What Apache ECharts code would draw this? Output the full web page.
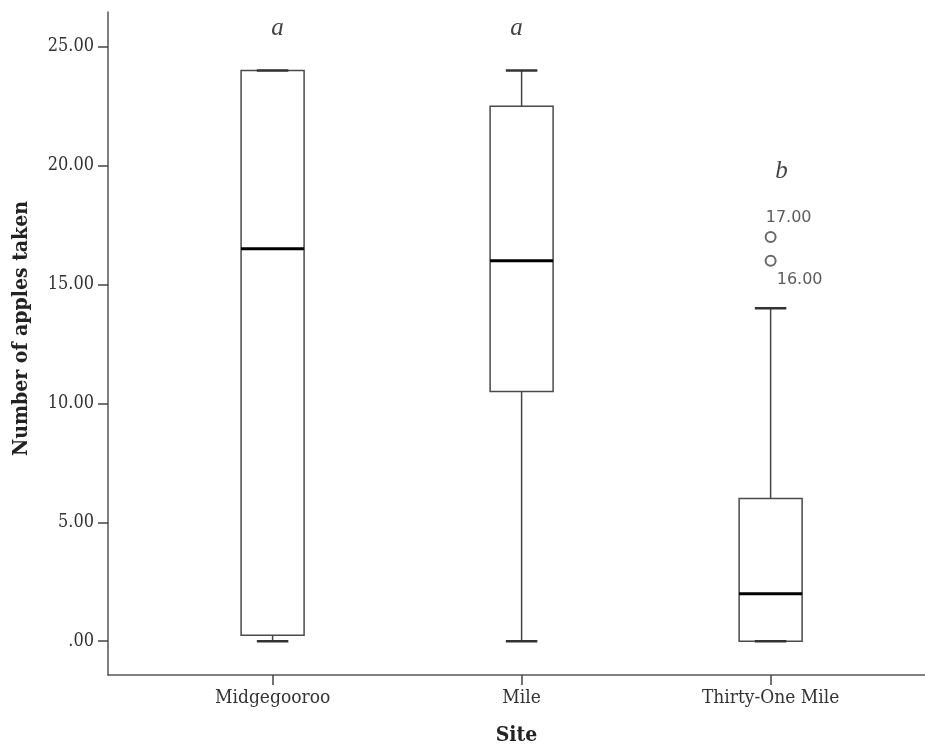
<!DOCTYPE html>
<html>
<head>
<meta charset="utf-8">
<script src="https://cdn.jsdelivr.net/npm/echarts@6/dist/echarts.min.js"></script>
<style>
  html, body { margin: 0; padding: 0; background: #fff; }
  #chart { width: 925px; height: 751px; }
</style>
</head>
<body>
<div id="chart"></div>
<script>
// box statistics per site
const sites = ['Midgegooroo', 'Mile', 'Thirty-One Mile'];
const whiskerLow = [0, 0, 0];
const quart1 = [0.25, 10.5, 0];
const medians = [16.5, 16, 2];
const quart3 = [24, 22.5, 6];
const whiskerHigh = [24, 24, 14];

// outliers
const outlierSite = [2, 2];
const outlierValues = [17, 16];

// group letters above the boxes
const groupLetters = ['a', 'a', 'b'];
const letterY = [25.75, 25.75, 19.77];

const yTicks = [0, 5, 10, 15, 20, 25];
const xTicks = [0, 1, 2];

const chart = echarts.init(document.getElementById('chart'));

const boxData = sites.map((s, i) => [i, whiskerLow[i], quart1[i], medians[i], quart3[i], whiskerHigh[i]]);
const outlierData = outlierValues.map((v, i) => [outlierSite[i], v]);
const letterData = groupLetters.map((l, i) => [i, letterY[i], l]);

const BOX_W = 0.253;

function renderBox(params, api) {
  const i = api.value(0);
  const lo = api.coord([i, api.value(1)]);
  const b1 = api.coord([i, api.value(2)]);
  const md = api.coord([i, api.value(3)]);
  const b3 = api.coord([i, api.value(4)]);
  const hi = api.coord([i, api.value(5)]);
  const w = api.size([BOX_W, 0])[0];
  const cx = lo[0];
  const half = w / 2, cap = w / 4;
  const thin = { stroke: '#444', lineWidth: 1.5 };
  return {
    type: 'group',
    children: [
      { type: 'line', shape: { x1: cx, y1: hi[1], x2: cx, y2: b3[1] }, style: thin },
      { type: 'line', shape: { x1: cx, y1: b1[1], x2: cx, y2: lo[1] }, style: thin },
      { type: 'rect', shape: { x: cx - half, y: b3[1], width: w, height: b1[1] - b3[1] },
        style: { fill: '#fff', stroke: '#4a4a4a', lineWidth: 1.5 } },
      { type: 'line', shape: { x1: cx - cap, y1: hi[1], x2: cx + cap, y2: hi[1] },
        style: { stroke: '#333', lineWidth: 2.5 } },
      { type: 'line', shape: { x1: cx - cap, y1: lo[1], x2: cx + cap, y2: lo[1] },
        style: { stroke: '#333', lineWidth: 2.5 } },
      { type: 'line', shape: { x1: cx - half, y1: md[1], x2: cx + half, y2: md[1] },
        style: { stroke: '#000', lineWidth: 3 } }
    ]
  };
}

const serif = 'DejaVu Serif Condensed';

const option = {
  animation: false,
  backgroundColor: '#fff',
  grid: { left: 108, right: 0, top: 12, bottom: 72 },
  xAxis: {
    type: 'value',
    min: -0.661,
    max: 2.62,
    name: 'Site',
    nameLocation: 'middle',
    nameGap: 50,
    nameTextStyle: { fontFamily: serif, fontWeight: 'bold', fontSize: 21, color: '#222' },
    axisLine: { show: true, onZero: false, lineStyle: { color: '#555', width: 1.5 } },
    axisTick: { show: true, customValues: xTicks, length: 10, lineStyle: { color: '#444', width: 1.5 } },
    axisLabel: {
      customValues: xTicks, margin: 14,
      fontFamily: serif, fontSize: 19, color: '#333',
      formatter: v => sites[Math.round(v)]
    },
    splitLine: { show: false }
  },
  yAxis: {
    type: 'value',
    min: -1.42,
    max: 26.46,
    name: 'Number of apples taken',
    nameLocation: 'middle',
    nameGap: 76,
    nameTextStyle: { fontFamily: serif, fontWeight: 'bold', fontSize: 21, color: '#222', padding: [0, 0, 0, 30] },
    axisLine: { show: true, onZero: false, lineStyle: { color: '#555', width: 1.5 } },
    axisTick: { show: true, customValues: yTicks, length: 10, lineStyle: { color: '#444', width: 1.5 } },
    axisLabel: {
      customValues: yTicks, margin: 14,
      fontFamily: serif, fontSize: 18, color: '#333',
      formatter: v => (v === 0 ? '.00' : v.toFixed(2))
    },
    splitLine: { show: false }
  },
  series: [
    {
      type: 'custom',
      renderItem: renderBox,
      data: boxData,
      encode: { x: 0, y: [1, 2, 3, 4, 5] },
      z: 2
    },
    {
      type: 'scatter',
      symbol: 'emptyCircle',
      symbolSize: 10,
      itemStyle: { color: '#444', borderWidth: 1.5 },
      label: {
        show: true,
        fontFamily: 'DejaVu Sans', fontSize: 16, color: '#333',
        formatter: p => p.value[1].toFixed(2)
      },
      data: outlierData.map((d, i) => ({
        value: d,
        // first label sits above its circle, the second below and to the right
        label: i === 0 ? { position: 'top', offset: [18, 0] } : { position: 'bottom', offset: [29, 0] }
      })),
      z: 3
    },
    {
      type: 'scatter',
      symbolSize: 0,
      label: {
        show: true,
        position: 'inside',
        fontFamily: 'Liberation Serif', fontStyle: 'italic', fontSize: 25, color: '#111',
        formatter: p => p.value[2]
      },
      data: letterData.map((d, i) => ({
        value: d,
        label: { offset: [[5, 0], [-5, 0], [11, 0]][i] }
      })),
      z: 3
    }
  ]
};

chart.setOption(option);
window.addEventListener('resize', () => chart.resize());
</script>
</body>
</html>
